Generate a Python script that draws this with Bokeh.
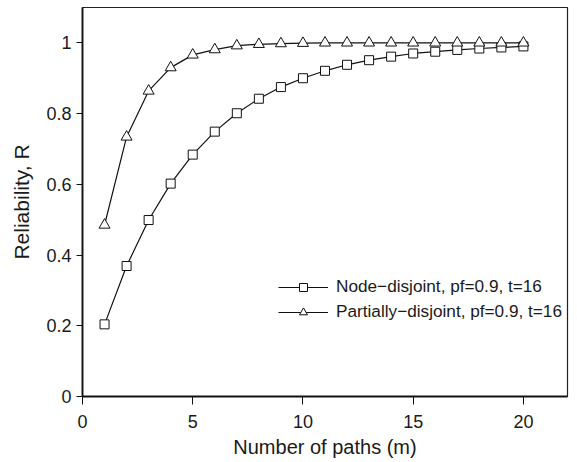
from bokeh.plotting import figure
from bokeh.models import (Range1d, FixedTicker, NumeralTickFormatter, Legend, LegendItem,
                          ColumnDataSource)
from bokeh.embed import file_html
from bokeh.resources import INLINE

# ---- data ----
paths_m = list(range(1, 21))
node_disjoint = [0.204, 0.369, 0.499, 0.602, 0.684, 0.749, 0.801, 0.842, 0.875, 0.900,
                 0.921, 0.938, 0.951, 0.961, 0.970, 0.975, 0.980, 0.984, 0.987, 0.990]
partially_disjoint = [0.485, 0.734, 0.864, 0.930, 0.966, 0.981, 0.992, 0.996, 0.998, 0.999,
                      1.0, 1.0, 1.0, 1.0, 1.0, 1.0, 1.0, 1.0, 1.0, 1.0]
series_labels = ["Node\u2212disjoint, pf=0.9, t=16", "Partially\u2212disjoint, pf=0.9, t=16"]
x_ticks = [0, 5, 10, 15, 20]
y_ticks = [0, 0.2, 0.4, 0.6, 0.8, 1.0]

FONT = "Liberation Sans"
TXT = "#1a1a1a"

p = figure(width=577, height=462, output_backend="svg", toolbar_location=None,
           x_range=Range1d(0, 22), y_range=Range1d(0, 1.1),
           min_border_left=82, min_border_right=10, min_border_top=7, min_border_bottom=66)
p.background_fill_color = "white"
p.border_fill_color = "white"
p.outline_line_color = "#222222"
p.outline_line_width = 1.2
p.xgrid.visible = False
p.ygrid.visible = False

src = ColumnDataSource(dict(m=paths_m, nd=node_disjoint, pd=partially_disjoint))

l1 = p.line("m", "nd", source=src, line_color="#111111", line_width=1.2)
s1 = p.scatter("m", "nd", source=src, marker="square", size=9,
               fill_color="white", line_color="#111111", line_width=1)
l2 = p.line("m", "pd", source=src, line_color="#111111", line_width=1.2)
s2 = p.scatter("m", "pd", source=src, marker="triangle", size=11,
               fill_color="white", line_color="#111111", line_width=1)

for ax in (p.xaxis[0], p.yaxis[0]):
    ax.axis_line_color = "#111111"
    ax.axis_line_width = 1.8
    ax.major_tick_line_color = "#111111"
    ax.major_tick_line_width = 1
    ax.major_tick_in = 0
    ax.minor_tick_line_color = None
    ax.major_label_text_font = FONT
    ax.major_label_text_font_size = "18px"
    ax.major_label_text_color = TXT
    ax.axis_label_text_font = FONT
    ax.axis_label_text_font_style = "normal"
    ax.axis_label_text_color = TXT

p.xaxis.ticker = FixedTicker(ticks=x_ticks)
p.yaxis.ticker = FixedTicker(ticks=y_ticks)
p.yaxis.formatter = NumeralTickFormatter(format="0.[0]")
p.xaxis.axis_label = "Number of paths (m)"
p.yaxis.axis_label = "Reliability, R"
p.xaxis.axis_label_text_font_size = "20px"
p.yaxis.axis_label_text_font_size = "21px"
p.xaxis.major_tick_out = 8
p.yaxis.major_tick_out = 6
p.xaxis.major_label_standoff = 10
p.yaxis.major_label_standoff = 5
p.xaxis.axis_label_standoff = 5
p.yaxis.axis_label_standoff = 10

legend = Legend(items=[LegendItem(label=series_labels[0], renderers=[l1, s1]),
                       LegendItem(label=series_labels[1], renderers=[l2, s2])],
                location=(196, 74), padding=0, margin=0, spacing=4,
                glyph_width=50, glyph_height=20, label_height=20, label_standoff=8,
                label_text_font=FONT, label_text_font_size="17.2px", label_text_color=TXT,
                background_fill_alpha=0, border_line_color=None)
p.add_layout(legend, "center")

open("out.html", "w").write(file_html(p, INLINE))
